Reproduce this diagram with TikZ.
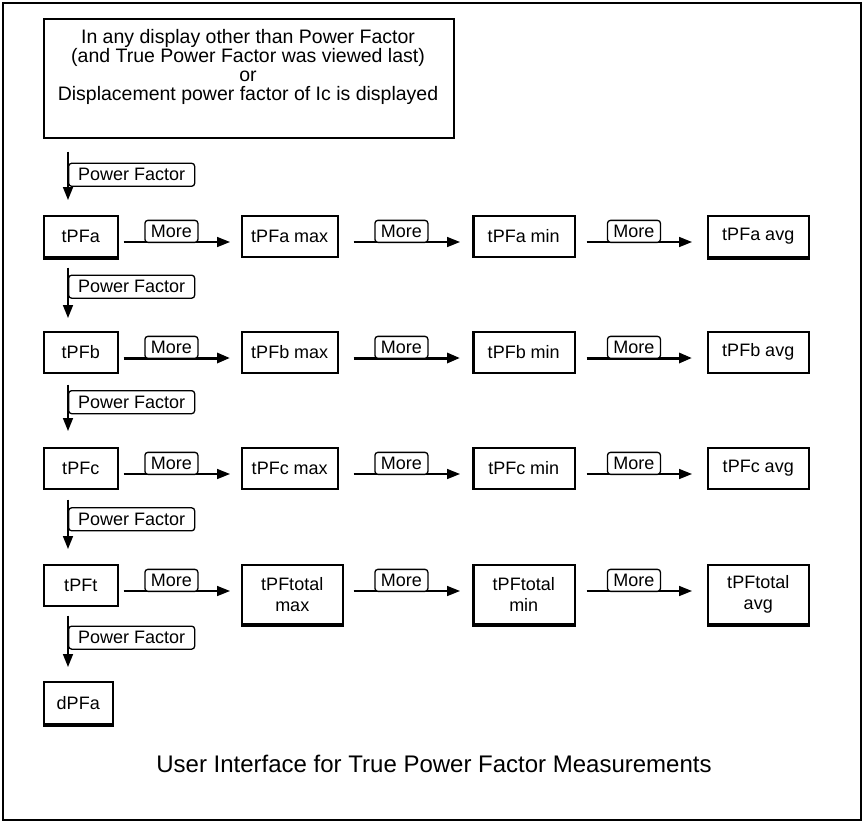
\documentclass[tikz,border=0pt]{standalone}
\usepackage{fontspec}
\setmainfont{Liberation Sans}
\usetikzlibrary{arrows.meta,calc}
\begin{document}
\begin{tikzpicture}[x=1pt,y=-1pt,
  every node/.style={font=\fontsize{18}{20}\selectfont},
  box/.style={draw, line width=1.5pt, anchor=north west, minimum height=41pt, inner sep=0pt, align=center},
  tallbox/.style={box, minimum height=59pt, font=\fontsize{18}{21}\selectfont},
  harr/.style={line width=1.6pt, -{Triangle[length=13pt,width=10pt]}},
  hharr/.style={harr, line width=3pt},
  varr/.style={line width=1.6pt, -{Triangle[length=13pt,width=10pt]}},
  morelbl/.style={draw, fill=white, line width=1.3pt, rounded corners=3pt, minimum width=53pt, minimum height=22pt, inner sep=1pt, anchor=south},
  pflbl/.style={draw, fill=white, line width=1.3pt, rounded corners=3pt, minimum width=126pt, minimum height=23pt, inner sep=1pt, anchor=west},
  thickb/.style={line width=3pt}
]
\useasboundingbox (0,0) rectangle (867,823);
\draw[line width=2pt] (3,3) rectangle (861,820);

% top box
\node[draw, line width=1.5pt, anchor=north west, minimum width=410pt, minimum height=119pt, inner sep=0pt] (top) at (43,18) {};
\node[align=center, font=\fontsize{19.5}{18.8}\selectfont] (toptext) at (248,67) {In any display other than Power Factor\\(and True Power Factor was viewed last)\\or\\Displacement power factor of Ic is displayed};

% row 1
\node[box, minimum width=74pt] (a1) at (43,215) {tPFa};
\node[box, minimum width=96pt] (a2) at (241,215) {tPFa max};
\node[box, minimum width=102pt] (a3) at (472,215) {tPFa min};
\node[box, minimum width=101pt] (a4) at (707,215) {tPFa avg};
% row 2
\node[box, minimum width=74pt] (b1) at (43,331) {tPFb};
\node[box, minimum width=96pt] (b2) at (241,331) {tPFb max};
\node[box, minimum width=102pt] (b3) at (472,331) {tPFb min};
\node[box, minimum width=101pt] (b4) at (707,331) {tPFb avg};
% row 3
\node[box, minimum width=74pt] (c1) at (43,447) {tPFc};
\node[box, minimum width=96pt] (c2) at (241,447) {tPFc max};
\node[box, minimum width=102pt] (c3) at (472,447) {tPFc min};
\node[box, minimum width=101pt] (c4) at (707,447) {tPFc avg};
% row 4
\node[box, minimum width=74pt] (d1) at (43,564) {tPFt};
\node[tallbox, minimum width=101pt] (d2) at (241,564) {tPFtotal\\max};
\node[tallbox, minimum width=102pt] (d3) at (472,564) {tPFtotal\\min};
\node[tallbox, minimum width=101pt] (d4) at (707,564) {tPFtotal\\avg};
% last
\node[box, minimum width=69pt, minimum height=42pt] (e1) at (43,681) {dPFa};

% thick edges
\draw[thickb] ([yshift=-1pt]a1.south west) -- ([yshift=-1pt]a1.south east);
\draw[thickb] ([xshift=1pt]a3.north west) -- ([xshift=1pt]a3.south west);
\draw[thickb] ([yshift=-1pt]a4.south west) -- ([yshift=-1pt]a4.south east);
\draw[thickb] ([xshift=1pt]b3.north west) -- ([xshift=1pt]b3.south west);
\draw[thickb] ([xshift=1pt]c3.north west) -- ([xshift=1pt]c3.south west);
\draw[thickb] ([yshift=-1pt]d2.south west) -- ([yshift=-1pt]d2.south east);
\draw[thickb] ([xshift=1pt]d3.north west) -- ([xshift=1pt]d3.south west);
\draw[thickb] ([yshift=-1pt]d3.south west) -- ([yshift=-1pt]d3.south east);
\draw[thickb] ([yshift=-1pt]d4.south west) -- ([yshift=-1pt]d4.south east);
\draw[thickb] ([yshift=-1pt]e1.south west) -- ([yshift=-1pt]e1.south east);

% horizontal arrows
\foreach \r/\st/\g in {a/harr/15, b/hharr/15, c/harr/15, d/harr/10}{
  \draw[\st] ($(\r1.north east)+(5,27)$) -- ($(\r1.north east -| \r2.west)+(-11,27)$)
    node[morelbl, pos=0.45, yshift=-1pt] {More};
  \draw[\st] ($(\r2.north east)+(\g,27)$) -- ($(\r2.north east -| \r3.west)+(-12,27)$)
    node[morelbl, pos=0.45, yshift=-1pt] {More};
  \draw[\st] ($(\r3.north east)+(11,27)$) -- ($(\r3.north east -| \r4.west)+(-15,27)$)
    node[morelbl, pos=0.45, yshift=-1pt] {More};
}

% vertical arrows
\draw[varr] ($(top.south west)+(25,13)$) -- ($(a1.north west)+(25,-15)$)
  node[pflbl, pos=0.48] {Power Factor};
\draw[varr] ($(a1.south west)+(25,10)$) -- ($(b1.north west)+(25,-13)$)
  node[pflbl, pos=0.38] {Power Factor};
\draw[varr] ($(b1.south west)+(25,11)$) -- ($(c1.north west)+(25,-16)$)
  node[pflbl, pos=0.38] {Power Factor};
\draw[varr] ($(c1.south west)+(25,10)$) -- ($(d1.north west)+(25,-15)$)
  node[pflbl, pos=0.40] {Power Factor};
\draw[varr] ($(d1.south west)+(25,9)$) -- ($(e1.north west)+(25,-14)$)
  node[pflbl, pos=0.43] {Power Factor};

% caption
\node[font=\fontsize{24}{28}\selectfont] (cap) at (434,764) {User Interface for True Power Factor Measurements};
\end{tikzpicture}
\end{document}
